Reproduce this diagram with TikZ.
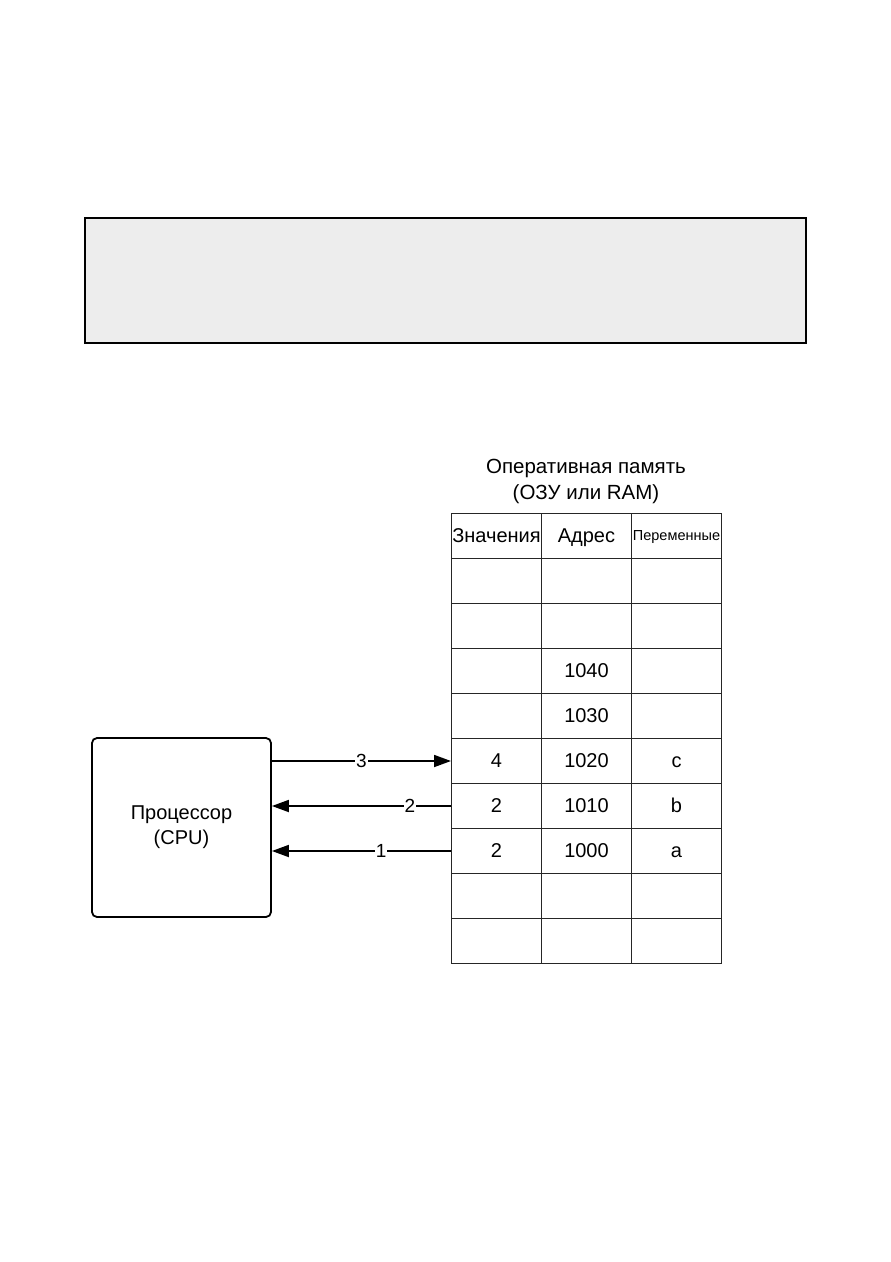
\documentclass[tikz,border=0pt]{standalone}
\usepackage{fontspec}
\setmainfont{Liberation Sans}
\usetikzlibrary{arrows.meta}
\begin{document}
\begin{tikzpicture}[x=1pt,y=-1pt,
  panel/.style={draw=black, line width=1.8pt, fill=black!7, minimum width=721pt, minimum height=125pt, anchor=north west, inner sep=0pt},
  cell/.style={draw=black!85, line width=1pt, minimum width=90pt, minimum height=45pt, anchor=north west, inner sep=0pt},
  txt/.style={font=\fontsize{20}{24}\selectfont, inner sep=0pt, text height=14pt, text depth=0pt},
  small/.style={font=\fontsize{14.5}{17}\selectfont, inner sep=0pt, text height=10.5pt, text depth=0pt},
  cpubox/.style={draw=black, line width=1.8pt, rounded corners=5pt, minimum width=179pt, minimum height=179pt, align=center, font=\fontsize{20}{25}\selectfont},
  arr/.style={line width=1.8pt, -{Triangle[length=17pt,width=12pt]}},
  lbl/.style={fill=white, inner sep=1pt, font=\fontsize{19}{22}\selectfont}
]
\useasboundingbox (0,0) rectangle (891,1262);
\fill[white] (0,0) rectangle (891,1262);

\node[panel] (panel) at (84,217) {};

\node[align=center, font=\fontsize{20.5}{26}\selectfont] (title) at (586,481) {Оперативная память\\(ОЗУ или RAM)};

\foreach \r in {0,...,9} {
  \foreach \c in {0,1,2} {
    \node[cell] (c\r\c) at ({451+90*\c},{513+45*\r}) {};
  }
}

\node[txt] (h0) at ([yshift=1pt]c00.center) {Значения};
\node[txt] (h1) at ([yshift=1pt]c01.center) {Адрес};
\node[small] (h2) at ([yshift=1pt]c02.center) {Переменные};

\node[txt] (t31) at ([yshift=1pt]c31.center) {1040};
\node[txt] (t41) at ([yshift=1pt]c41.center) {1030};
\node[txt] (t50) at ([yshift=1pt]c50.center) {4};
\node[txt] (t51) at ([yshift=1pt]c51.center) {1020};
\node[txt] (t52) at ([yshift=1pt]c52.center) {c};
\node[txt] (t60) at ([yshift=1pt]c60.center) {2};
\node[txt] (t61) at ([yshift=1pt]c61.center) {1010};
\node[txt] (t62) at ([yshift=1pt]c62.center) {b};
\node[txt] (t70) at ([yshift=1pt]c70.center) {2};
\node[txt] (t71) at ([yshift=1pt]c71.center) {1000};
\node[txt] (t72) at ([yshift=1pt]c72.center) {a};

\node[cpubox] (cpu) at (181.5,827.5) {Процессор\\(CPU)};

\draw[arr] (cpu.east |- c50.west) -- node[lbl, pos=0.5] (l3) {3} (c50.west);
\draw[arr] (c60.west) -- node[lbl, pos=0.23] (l2) {2} (cpu.east |- c60.west);
\draw[arr] (c70.west) -- node[lbl, pos=0.39] (l1) {1} (cpu.east |- c70.west);
\end{tikzpicture}
\end{document}
